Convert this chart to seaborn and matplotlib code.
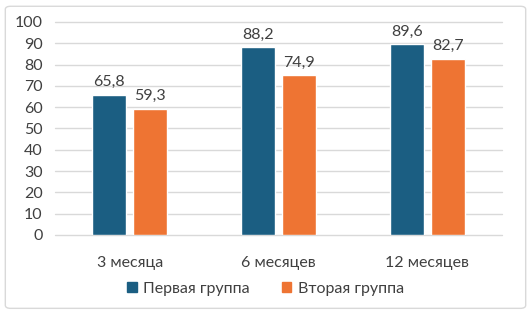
import pandas as pd
import matplotlib.pyplot as plt
import seaborn as sns
from matplotlib.patches import FancyBboxPatch, Patch

# ----------------------------
# Data
# ----------------------------

periods = ["3 месяца", "6 месяцев", "12 месяцев"]
group1 = [65.8, 88.2, 89.6]
group2 = [59.3, 74.9, 82.7]
series_names = ["Первая группа", "Вторая группа"]
colors = ["#1B5E82", "#EE7433"]

df = pd.DataFrame({
    "period": periods * 2,
    "value": group1 + group2,
    "group": [series_names[0]] * 3 + [series_names[1]] * 3,
})

# ----------------------------
# Plot
# ----------------------------

sns.set_style("white")
plt.rcParams["font.family"] = ["Lato", "DejaVu Sans"]

fig = plt.figure(figsize=(5.31, 3.14), dpi=100)
ax = fig.add_axes([0.104, 0.252, 0.841, 0.678])

sns.barplot(data=df, x="period", y="value", hue="group",
            palette=colors, width=0.557, gap=0.18, saturation=1,
            ax=ax, legend=False)

ax.set_xlim(-0.5, 2.5)
ax.set_ylim(0, 100)
ax.set_yticks(range(0, 101, 10))
ax.yaxis.grid(True, color="#D9D9D9", linewidth=1)
for gl in ax.get_ygridlines():
    gl.set_clip_on(False)
ax.set_axisbelow(True)
for s in ax.spines.values():
    s.set_visible(False)
ax.tick_params(axis="both", length=0, labelsize=11.5, colors="#404040")
ax.tick_params(axis="x", pad=15)
ax.tick_params(axis="y", pad=9)
ax.set_xlabel("")
ax.set_ylabel("")

for cont in ax.containers:
    ax.bar_label(cont, labels=[f"{v:.1f}".replace(".", ",") for v in cont.datavalues],
                 padding=4, fontsize=11.5, color="#404040")

handles = [Patch(color=c) for c in colors]
fig.legend(handles, series_names, loc="center", bbox_to_anchor=(0.5, 0.08),
           ncol=2, frameon=False, fontsize=11.5, handlelength=0.6,
           handleheight=0.6, handletextpad=0.4, columnspacing=2.0,
           labelcolor="#404040")

# light border round the chart
fig.patches.append(FancyBboxPatch((0.01, 0.018), 0.98, 0.962,
                                  boxstyle="round,pad=0,rounding_size=0.01",
                                  transform=fig.transFigure, fill=False,
                                  edgecolor="#D9D9D9", linewidth=1))

plt.savefig("out.png", dpi=100)
plt.close()
